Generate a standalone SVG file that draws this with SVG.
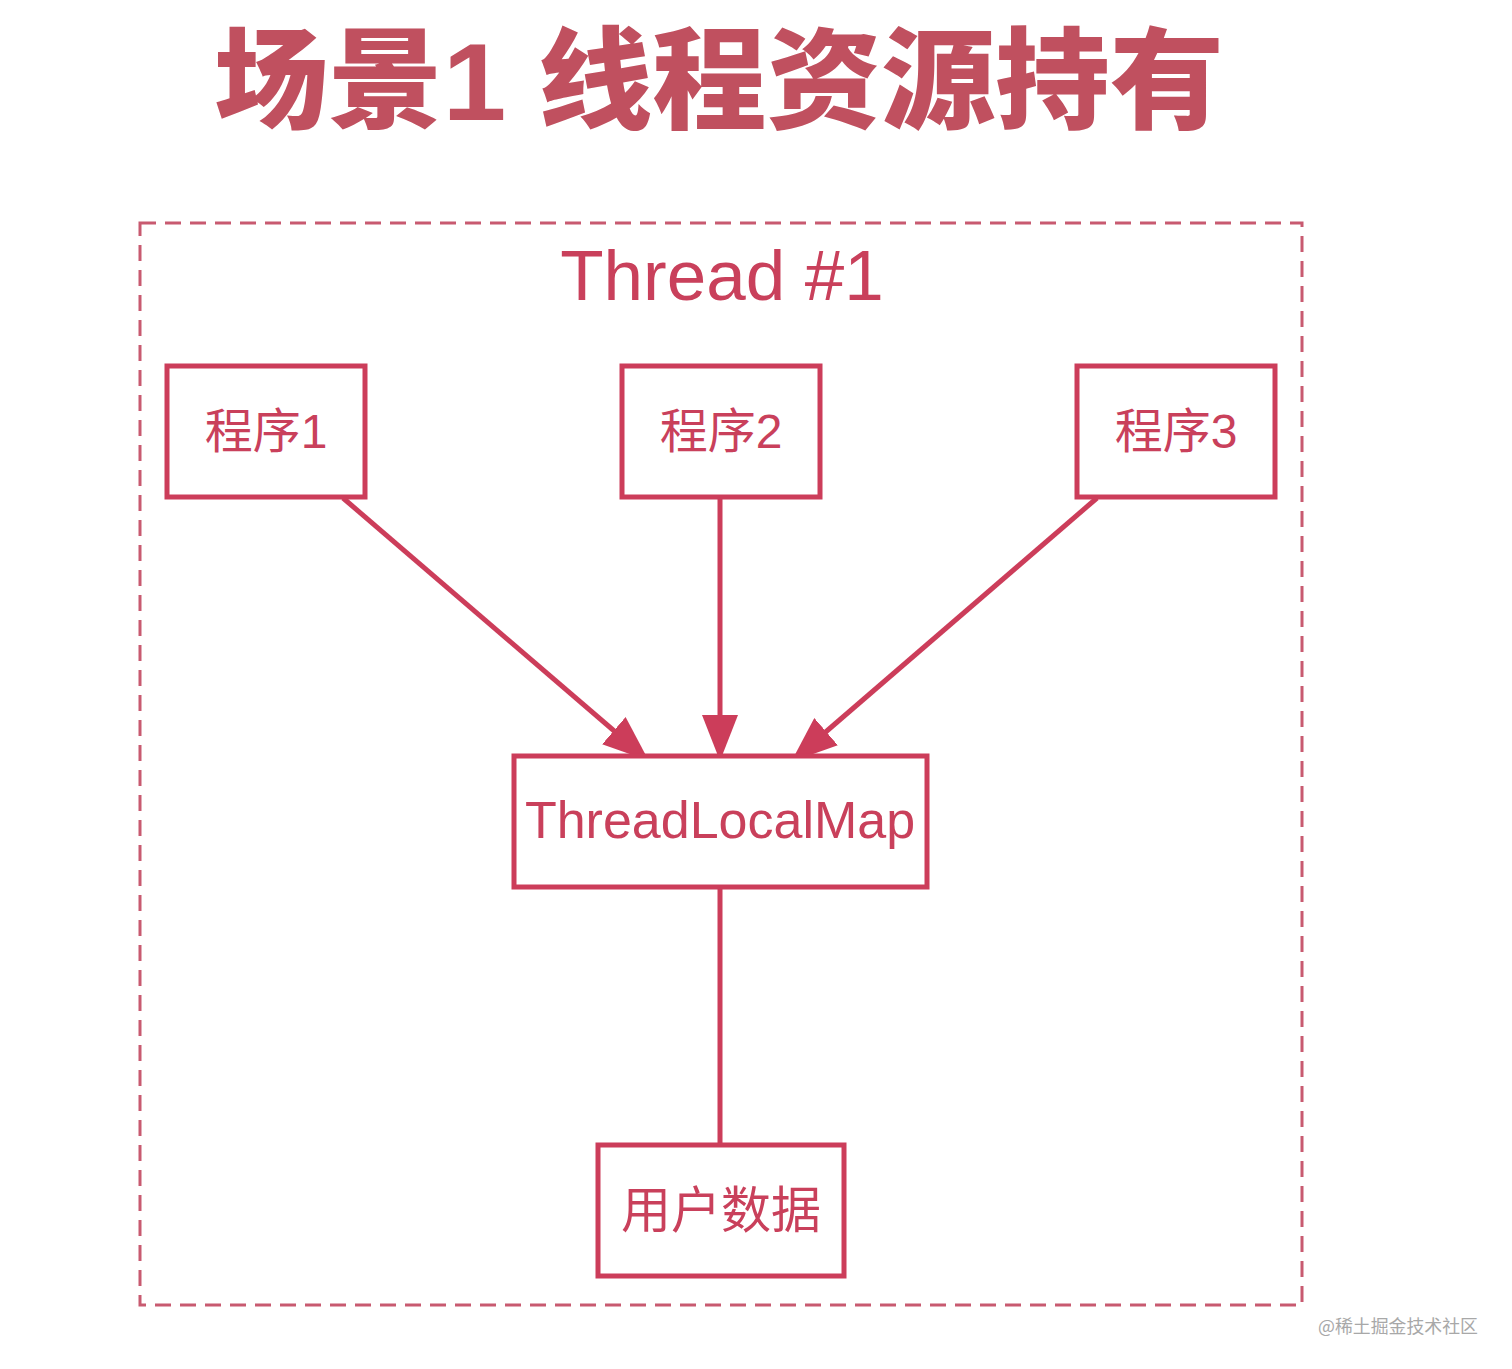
<svg xmlns="http://www.w3.org/2000/svg" width="1512" height="1369" viewBox="0 0 1512 1369">
<style>
.box{fill:#fff;stroke:#cc3d5a;stroke-width:5}
.lbl{fill:#c9405b;font-family:"Liberation Sans","Noto Sans CJK SC",sans-serif;text-anchor:middle}
.edge{stroke:#cc3d5a;stroke-width:5;fill:none}
</style>
<defs>
<marker id="ah" markerUnits="userSpaceOnUse" viewBox="0 0 46 36" refX="45" refY="18" markerWidth="46" markerHeight="36" orient="auto">
<path d="M0,0 L46,18 L0,36 z" fill="#cc3d5a"/>
</marker>
</defs>
<rect width="1512" height="1369" fill="#fff"/>
<text id="title" x="719" y="120" font-family="'Liberation Sans','Noto Sans CJK SC',sans-serif" font-weight="900" font-size="110" fill="#c0505f" text-anchor="middle" textLength="1010" lengthAdjust="spacingAndGlyphs">场景1 线程资源持有</text>
<g id="thread">
<rect x="140" y="223" width="1162" height="1082" fill="none" stroke="#c85a70" stroke-width="3" stroke-dasharray="16 9"/>
<text class="lbl" x="722" y="300" font-size="71">Thread #1</text>
</g>
<g id="connectors">
<line class="edge" x1="343" y1="498" x2="648" y2="760" marker-end="url(#ah)"/>
<line class="edge" x1="720" y1="498" x2="720" y2="760" marker-end="url(#ah)"/>
<line class="edge" x1="1097" y1="498" x2="792" y2="761" marker-end="url(#ah)"/>
<line class="edge" x1="720" y1="887" x2="720" y2="1145"/>
</g>
<g id="p1"><rect class="box" x="167" y="366" width="198" height="131"/><text class="lbl" x="266" y="448" font-size="48">程序1</text></g>
<g id="p2"><rect class="box" x="622" y="366" width="198" height="131"/><text class="lbl" x="721" y="448" font-size="48">程序2</text></g>
<g id="p3"><rect class="box" x="1077" y="366" width="198" height="131"/><text class="lbl" x="1176" y="448" font-size="48">程序3</text></g>
<g id="tlm"><rect class="box" x="514" y="756" width="413" height="131"/><text class="lbl" x="720" y="838" font-size="52">ThreadLocalMap</text></g>
<g id="data"><rect class="box" x="598" y="1145" width="246" height="131"/><text class="lbl" x="721" y="1228" font-size="50">用户数据</text></g>
<text id="wm" x="1318" y="1333" font-family="'Noto Sans CJK SC',sans-serif" font-size="18" fill="#a8a8a8" textLength="160" lengthAdjust="spacingAndGlyphs">@稀土掘金技术社区</text>
</svg>
